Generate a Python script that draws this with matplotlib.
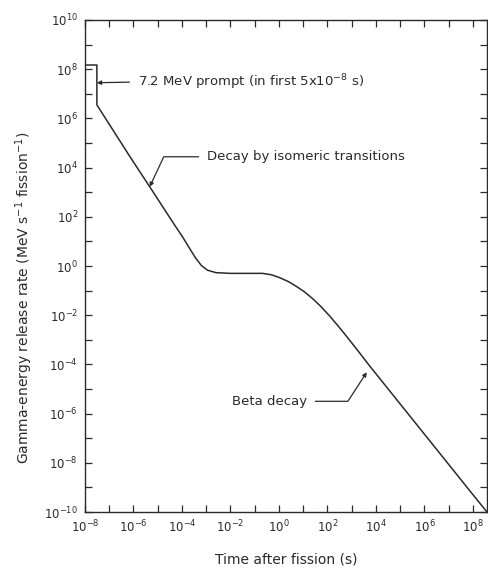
import numpy as np
import matplotlib
matplotlib.use("Agg")
import matplotlib.pyplot as plt

# Gamma-energy release rate vs time after fission (log10 values)
log_time = [-8.0, -7.51, -7.51, -6.15, -5.33, -4.30, -4.00, -3.70, -3.45, -3.20,
            -2.95, -2.60, -2.00, -1.20, -0.67, -0.30, 0.02, 0.40, 0.72, 1.05,
            1.38, 1.70, 2.08, 2.45, 2.78, 3.30, 3.73, 5.09, 6.49, 7.84, 8.58]
log_rate = [8.17, 8.17, 6.55, 4.45, 3.22, 1.66, 1.22, 0.74, 0.34, 0.02,
            -0.17, -0.27, -0.30, -0.30, -0.30, -0.36, -0.47, -0.64, -0.83, -1.05,
            -1.32, -1.62, -2.02, -2.45, -2.85, -3.50, -4.05, -5.72, -7.44, -9.10, -10.0]
time_s = [10.0**v for v in log_time]
rate = [10.0**v for v in log_rate]

x_decades = list(range(-8, 9))
y_decades = list(range(-10, 11))
xticklabels = [r"$10^{%d}$" % k if k % 2 == 0 else "" for k in x_decades]
yticklabels = [r"$10^{%d}$" % k if k % 2 == 0 else "" for k in y_decades]

ink = "#2a2a2a"
plt.rcParams['font.family'] = ['DejaVu Sans']
plt.rcParams['mathtext.fontset'] = 'dejavusans'

fig = plt.figure(figsize=(4.89, 5.74), dpi=100)
ax = fig.add_axes([85/489, 62/574, 402/489, 492/574])
ax.plot(time_s, rate, color=ink, lw=1.1, solid_joinstyle='round')
ax.set_xscale('log')
ax.set_yscale('log')
ax.set_xlim(1e-8, 10**8.58)
ax.set_ylim(1e-10, 1e10)

ax.set_xticks([10.0**k for k in x_decades])
ax.set_xticklabels(xticklabels)
ax.set_yticks([10.0**k for k in y_decades])
ax.set_yticklabels(yticklabels)
ax.minorticks_off()
ax.tick_params(which='major', direction='in', length=5, width=0.9, color=ink,
               top=True, right=True, labelsize=8.5, labelcolor=ink, pad=5)
for s in ax.spines.values():
    s.set_color(ink)
    s.set_linewidth(1.0)

ax.set_xlabel("Time after fission (s)", fontsize=10, color=ink, labelpad=12)
ax.set_ylabel(r"Gamma-energy release rate (MeV s$^{-1}$ fission$^{-1}$)",
              fontsize=10, color=ink)
ax.yaxis.set_label_coords(-0.124, 0.436)

tkw = dict(fontsize=9.5, color=ink, va='center')
ax.annotate(r"7.2 MeV prompt (in first 5x10$^{-8}$ s)", xy=(10**-7.51, 10**7.45),
            xycoords='data', xytext=(0.131, 0.874), textcoords='axes fraction',
            ha='left', **tkw,
            arrowprops=dict(arrowstyle='-|>', color=ink, lw=0.9, mutation_scale=6,
                            shrinkA=4, shrinkB=0, relpos=(0, 0.5)))
ax.annotate("Decay by isomeric transitions", xy=(10**-5.33, 10**3.22),
            xycoords='data', xytext=(0.3035, 0.722), textcoords='axes fraction',
            ha='left', **tkw,
            arrowprops=dict(arrowstyle='-|>', color=ink, lw=0.9, mutation_scale=6,
                            shrinkA=4, shrinkB=0, relpos=(0, 0.5),
                            connectionstyle="angle,angleA=0,angleB=65,rad=0"))
ax.annotate("Beta decay", xy=(10**3.62, 10**-4.32),
            xycoords='data', xytext=(0.552, 0.225), textcoords='axes fraction',
            ha='right', **tkw,
            arrowprops=dict(arrowstyle='-|>', color=ink, lw=0.9, mutation_scale=6,
                            shrinkA=4, shrinkB=0, relpos=(1, 0.5),
                            connectionstyle="angle,angleA=0,angleB=57,rad=0"))

fig.savefig("out.png", dpi=100, facecolor='white')
